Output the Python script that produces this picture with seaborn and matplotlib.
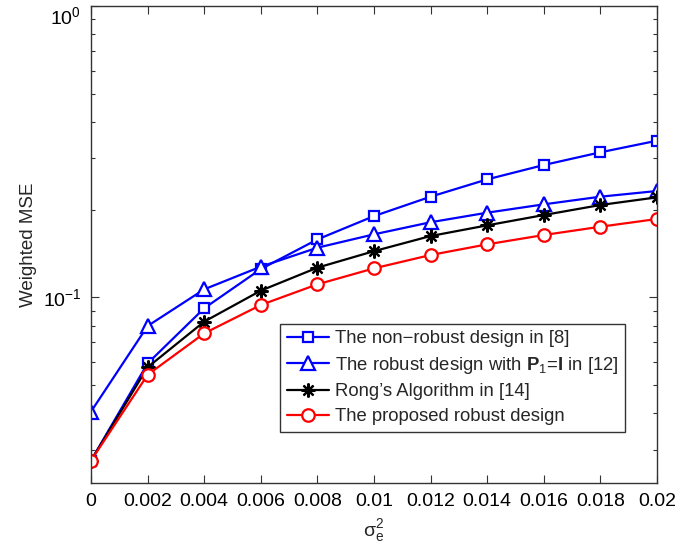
import numpy as np
import pandas as pd
import matplotlib
matplotlib.use("Agg")
import matplotlib.pyplot as plt
import matplotlib.ticker as mticker
import seaborn as sns

# ── Dados ─────────────────────────────────────────────────────
sigma_e2 = [0, 0.002, 0.004, 0.006, 0.008, 0.01, 0.012, 0.014, 0.016, 0.018, 0.02]

nonrobust = [0.0275, 0.0593, 0.0917, 0.125, 0.158, 0.190, 0.2215, 0.254, 0.2845, 0.3146, 0.3448]
robust_p1 = [0.0405, 0.0797, 0.1065, 0.1274, 0.148, 0.1645, 0.181, 0.1952, 0.2085, 0.2215, 0.2317]
rong      = [0.0275, 0.0575, 0.0825, 0.1054, 0.1264, 0.144, 0.1623, 0.1766, 0.1916, 0.2074, 0.2204]
proposed  = [0.0275, 0.0542, 0.0752, 0.0941, 0.1108, 0.1257, 0.1397, 0.152, 0.1636, 0.1747, 0.1857]

labels = [
    "The non\u2212robust design in [8]",
    r"The robust design with $\mathbf{P}_1$=$\mathbf{I}$ in [12]",
    "Rong\u2019s Algorithm in [14]",
    "The proposed robust design",
]
x_ticklabels = ["0", "0.002", "0.004", "0.006", "0.008", "0.01",
                "0.012", "0.014", "0.016", "0.018", "0.02"]

# ── Estilo ────────────────────────────────────────────────────
sns.set_style("ticks")
plt.rcParams.update({
    "font.family": ["Liberation Sans", "DejaVu Sans"],
    "mathtext.fontset": "custom",
    "mathtext.rm": "Liberation Sans",
    "mathtext.it": "Liberation Sans",
    "mathtext.bf": "Liberation Sans:bold",
    "font.size": 14,
    "axes.edgecolor": "#333333",
    "axes.linewidth": 1.0,
    "xtick.color": "#333333",
    "ytick.color": "#333333",
    "xtick.labelcolor": "black",
    "ytick.labelcolor": "black",
})

series = [
    (nonrobust, labels[0], "#0000ff", "s", 7.5, "white"),
    (robust_p1, labels[1], "#0000ff", "^", 9.5, "white"),
    (rong,      labels[2], "black",   (8, 2, 0), 10, "black"),
    (proposed,  labels[3], "#ff0000", "o", 9, "white"),
]

fig = plt.figure(figsize=(6.98, 5.52), dpi=100)
ax = fig.add_axes([91 / 698, 1 - 483 / 552, 566 / 698, 477 / 552])

for vals, lab, col, mk, ms, mfc in series:
    sns.lineplot(x=sigma_e2, y=vals, ax=ax, color=col, label=lab,
                 marker=mk, markersize=ms, markerfacecolor=mfc,
                 markeredgecolor=col, markeredgewidth=1.6, linewidth=1.6)

ax.set_yscale("log")
ax.set_xlim(0, 0.02)
ax.set_ylim(0.02304, 1)
ax.xaxis.set_major_locator(mticker.FixedLocator(sigma_e2))
ax.xaxis.set_major_formatter(mticker.FixedFormatter(x_ticklabels))
ax.yaxis.set_major_locator(mticker.FixedLocator([0.1, 1]))
ax.yaxis.set_minor_formatter(mticker.NullFormatter())
ax.tick_params(which="both", direction="in", top=True, right=True,
               labelsize=14, width=0.8)
ax.tick_params(which="major", length=6, pad=7)
ax.tick_params(which="minor", length=3)

ax.set_xlabel(r"$\sigma_e^2$", fontsize=14, labelpad=5)
ax.set_ylabel("Weighted MSE", fontsize=13.5, labelpad=4)

leg = ax.legend(loc="lower right", bbox_to_anchor=(0.943, 0.1075),
                borderaxespad=0, fontsize=13.3, frameon=True, fancybox=False,
                framealpha=1, edgecolor="#333333", handlelength=2.3,
                handletextpad=0.3, labelspacing=0.42, borderpad=0.35)
leg.get_frame().set_linewidth(1.0)

# the top label (10^0) sits just below the axes edge, as in the original
fig.canvas.draw()
for tick in ax.yaxis.get_major_ticks():
    if np.isclose(tick.get_loc(), 1.0):
        tick.label1.set_verticalalignment("top")

fig.savefig("out.png", dpi=100)
